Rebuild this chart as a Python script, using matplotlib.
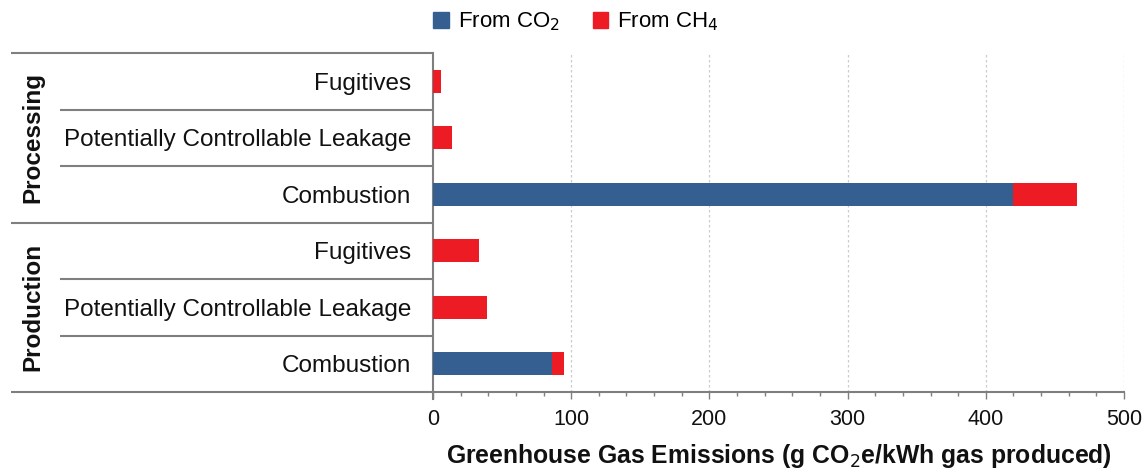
import matplotlib
matplotlib.use("Agg")
import matplotlib.pyplot as plt
from matplotlib.patches import Patch
from matplotlib.transforms import blended_transform_factory
import numpy as np

plt.rcParams['font.family'] = ['Liberation Sans', 'DejaVu Sans']

# Data (bottom to top)
groups = ["Production", "Processing"]
categories = ["Combustion", "Potentially Controllable Leakage", "Fugitives",
              "Combustion", "Potentially Controllable Leakage", "Fugitives"]
from_co2 = [86, 0, 0, 420, 0, 0]
from_ch4 = [9, 39, 33, 46, 14, 6]
xticks = [0, 100, 200, 300, 400, 500]

blue = "#365F91"
red = "#ED1C24"
line_col = "#7f7f7f"

W, H = 1147, 469
fig = plt.figure(figsize=(W / 100, H / 100), dpi=100)
ax = fig.add_axes([433 / W, 1 - 392 / H, (1124 - 433) / W, (392 - 53) / H])

y = np.arange(len(categories))
ax.barh(y, from_co2, height=0.4, color=blue, label="From CO$_2$", zorder=3)
ax.barh(y, from_ch4, height=0.4, left=from_co2, color=red, label="From CH$_4$", zorder=3)

ax.set_xlim(0, 500)
ax.set_ylim(-0.5, len(categories) - 0.5)
ax.set_xticks(xticks)
ax.set_xticks(np.arange(0, 501, 20), minor=True)
ax.tick_params(axis='x', which='major', length=5, width=1, color=line_col,
               labelsize=15.5, labelcolor="#111111", pad=7)
ax.tick_params(axis='x', which='minor', length=3, width=1, color=line_col)
ax.set_yticks(y)
ax.set_yticklabels(categories)
ax.tick_params(axis='y', length=0, pad=15.8, labelsize=17.5, labelcolor="#111111")

for xv in xticks[1:]:
    ax.axvline(xv, color="#cccccc", lw=0.9, ls=(0, (2, 2)), zorder=1)

for s in ['top', 'right']:
    ax.spines[s].set_visible(False)
ax.spines['left'].set_color(line_col)
ax.spines['bottom'].set_color(line_col)
ax.spines['left'].set_linewidth(1.5)
ax.spines['bottom'].set_linewidth(1.5)
ax.spines['left'].set_bounds(-0.62, 5.5)

ax.set_xlabel("Greenhouse Gas Emissions (g CO$_2$e/kWh gas produced)",
              fontsize=17.8, fontweight='bold', color="#111111", labelpad=9)

# Table lines on the left
tr = blended_transform_factory(fig.transFigure, ax.transData)
x_end = 433 / W
for yy in [5.5, 2.5, -0.5]:
    ax.plot([11 / W, x_end], [yy, yy], transform=tr, color=line_col, lw=1.5,
            clip_on=False, solid_capstyle='butt')
for yy in [4.5, 3.5, 1.5, 0.5]:
    ax.plot([60 / W, x_end], [yy, yy], transform=tr, color=line_col, lw=1.5,
            clip_on=False, solid_capstyle='butt')

for g, yc in zip(groups, [1, 4]):
    ax.text(33 / W, yc, g, transform=tr, rotation=90, ha='center', va='center',
            fontsize=17.5, fontweight='bold', color="#111111")

handles = [Patch(color=blue, label="From CO$_2$"), Patch(color=red, label="From CH$_4$")]
fig.legend(handles=handles, loc='upper center', bbox_to_anchor=(576 / W, 1.02),
           ncol=2, frameon=False, fontsize=16, handlelength=0.7, handleheight=0.7,
           handletextpad=0.4, columnspacing=1.5)

fig.savefig("out.png", dpi=100)
